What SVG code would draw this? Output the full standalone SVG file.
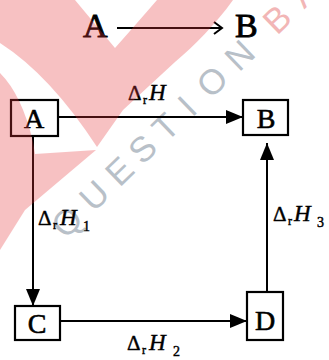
<svg xmlns="http://www.w3.org/2000/svg" width="329" height="360" viewBox="0 0 329 360">
  <style>
    .box { fill: none; stroke: #000; stroke-width: 2.2; }
    .conn { stroke: #000; stroke-width: 2; fill: none; }
    .node { font-family: "Liberation Serif", "Times New Roman", serif; font-size: 28px; fill: #000; stroke: #000; stroke-width: 0.6; text-anchor: middle; }
    .big { font-family: "Liberation Serif", "Times New Roman", serif; font-size: 34px; fill: #000; stroke: #000; stroke-width: 0.9; }
    .lbl { font-family: "Liberation Serif", "Times New Roman", serif; fill: #000; stroke: #000; stroke-width: 0.45; }
    .d { font-size: 21px; }
    .r { font-size: 12px; }
    .h { font-size: 23px; font-style: italic; }
    .s { font-size: 14px; }
    .wm { font-family: "Liberation Sans", Arial, sans-serif; font-size: 35px; text-anchor: middle; }
  </style>
  <defs>
    <marker id="ah" markerUnits="userSpaceOnUse" markerWidth="17" markerHeight="14" refX="17" refY="7" orient="auto">
      <path d="M0,0 L17,7 L0,14 Z" fill="#000"/>
    </marker>
  </defs>
  <rect width="329" height="360" fill="#fff"/>

  <g id="watermark-text" transform="translate(67,222) rotate(-44)">
    <text class="wm" fill="#b8c0c8" y="12" x="0 38 73 105 137 167 202 240">QUESTION</text>
    <text class="wm" fill="#f2b6b6" y="12" x="292 330">BA</text>
  </g>

  <g id="reaction">
    <text x="83" y="37" class="big">A</text>
    <text x="235" y="37" class="big">B</text>
    <line x1="117" y1="28" x2="221" y2="28" class="conn"/>
    <path d="M214,22 L222,28 L214,34" class="conn"/>
  </g>

  <g id="connectors">
    <line x1="58" y1="117" x2="243" y2="117" class="conn" marker-end="url(#ah)"/>
    <line x1="33" y1="136" x2="33" y2="306" class="conn" marker-end="url(#ah)"/>
    <line x1="60" y1="321" x2="247" y2="321" class="conn" marker-end="url(#ah)"/>
    <line x1="267" y1="292" x2="267" y2="143" class="conn" marker-end="url(#ah)"/>
  </g>

  <g id="node-A">
    <rect x="11" y="100" width="47" height="36" class="box"/>
    <text x="34" y="128" class="node">A</text>
  </g>
  <g id="node-B">
    <rect x="243" y="100" width="45" height="35" class="box"/>
    <text x="266" y="128" class="node">B</text>
  </g>
  <g id="node-C">
    <rect x="15" y="306" width="45" height="34" class="box"/>
    <text x="37" y="333" class="node" font-size="30">C</text>
  </g>
  <g id="node-D">
    <rect x="247" y="292" width="36" height="48" class="box"/>
    <text x="265" y="330" class="node" font-size="30">D</text>
  </g>

  <g id="labels">
    <g id="label-AB">
      <text x="128" y="100" class="lbl d">Δ</text>
      <text x="143" y="104" class="lbl r">r</text>
      <text x="149" y="100" class="lbl h">H</text>
    </g>
    <g id="label-AC">
      <text x="38" y="225" class="lbl d">Δ</text>
      <text x="53" y="229" class="lbl r">r</text>
      <text x="60" y="225" class="lbl h">H</text>
      <text x="83" y="231" class="lbl s">1</text>
    </g>
    <g id="label-CD">
      <text x="127" y="350" class="lbl d">Δ</text>
      <text x="142" y="354" class="lbl r">r</text>
      <text x="149" y="350" class="lbl h">H</text>
      <text x="173" y="356" class="lbl s">2</text>
    </g>
    <g id="label-DB">
      <text x="273" y="221" class="lbl d">Δ</text>
      <text x="288" y="225" class="lbl r">r</text>
      <text x="294" y="221" class="lbl h">H</text>
      <text x="317" y="227" class="lbl s">3</text>
    </g>
  </g>

  <g id="watermark-shape" fill="#e8353a" opacity="0.3">
    <path d="M0,0 L75,0 L115,48 Q138,22 157,0 L233,0 C215,25 195,45 175,62 L123,110 L97,147 Q50,75 0,43 Z"/>
    <path d="M0,73 Q22,95 33,142 L35,154 L96,150 L25,210 L0,250 Z"/>
  </g>
</svg>
